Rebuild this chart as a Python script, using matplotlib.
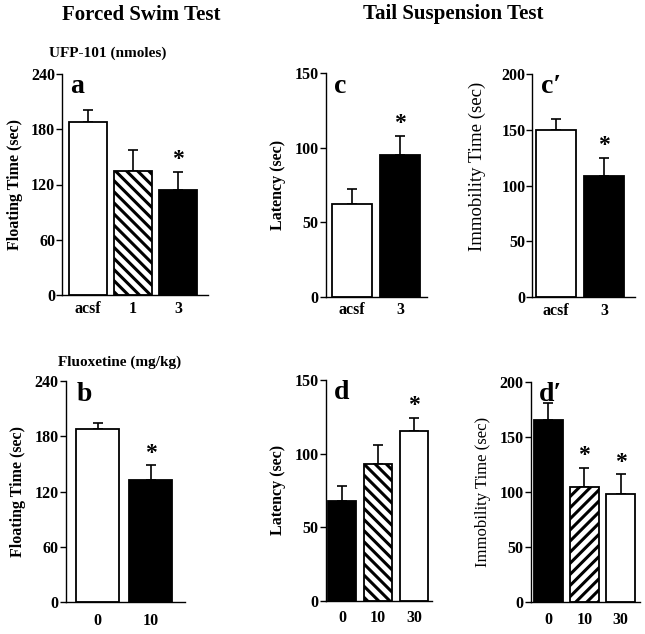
import numpy as np
from matplotlib import pyplot as plt

plt.rcParams['font.family'] = ['Liberation Serif', 'DejaVu Serif']
plt.rcParams['font.weight'] = 'bold'
plt.rcParams['hatch.linewidth'] = 2.2

# panel data (mean, upper SEM)
a_cats = ['acsf', '1', '3']
a_vals = [188, 135, 114]
a_err = [13, 22, 20]
a_star = [False, False, True]

b_cats = ['0', '10']
b_vals = [188, 133]
b_err = [7, 16]
b_star = [False, True]

c_cats = ['acsf', '3']
c_vals = [62, 95]
c_err = [10, 13]
c_star = [False, True]

c2_cats = ['acsf', '3']
c2_vals = [150, 109]
c2_err = [10, 16]
c2_star = [False, True]

d_cats = ['0', '10', '30']
d_vals = [68, 93, 115]
d_err = [10, 13, 9.5]
d_star = [False, False, True]

d2_cats = ['0', '10', '30']
d2_vals = [165, 104, 98.5]
d2_err = [16, 18, 17.5]
d2_star = [False, True, True]

W, H = 645, 634
fig = plt.figure(figsize=(W / 100, H / 100), dpi=100)


def rect(l, r, t, b):
    return [l / W, 1 - b / H, (r - l) / W, (b - t) / H]


def panel(box, cats, vals, err, stars, styles, ymax, yticks, ylabel, letter,
          width, xlim, xpad, ylsize=11.5, ylweight='bold', letx=8):
    ax = fig.add_axes(box)
    x = np.arange(len(cats))
    for i in range(len(cats)):
        st = styles[i]
        if st == 'w':
            fc, hatch = 'white', None
        elif st == 'k':
            fc, hatch = 'black', None
        else:
            fc, hatch = 'white', st
        ax.bar(x[i], vals[i], width=width, color=fc, edgecolor='black',
               linewidth=1.3, hatch=hatch, zorder=2)
    ax.errorbar(x, vals, yerr=[np.zeros(len(err)), err], fmt='none',
                ecolor='black', elinewidth=1.2, capsize=3.3, capthick=1.2,
                zorder=1)
    for i in range(len(cats)):
        if stars[i]:
            ax.annotate('*', (x[i], vals[i] + err[i]), xytext=(0, 1),
                        textcoords='offset points', ha='center', va='bottom',
                        fontsize=17, fontweight='bold')
    ax.set_xlim(*xlim)
    ax.set_ylim(0, ymax)
    ax.set_yticks(yticks)
    ax.set_xticks(x)
    ax.set_xticklabels(cats)
    ax.spines['top'].set_visible(False)
    ax.spines['right'].set_visible(False)
    ax.spines['left'].set_linewidth(1.0)
    ax.spines['bottom'].set_linewidth(1.0)
    ax.tick_params(axis='y', direction='out', length=4, width=1.0,
                   labelsize=11.5, pad=1)
    ax.tick_params(axis='x', length=0, labelsize=11.5, pad=xpad)
    for lab in ax.get_xticklabels() + ax.get_yticklabels():
        lab.set_fontweight('bold')
    ax.set_ylabel(ylabel, fontsize=ylsize, fontweight=ylweight, labelpad=6)
    ax.annotate(letter, (0, 1), xycoords='axes fraction', xytext=(letx, -14),
                textcoords='offset points', ha='left', va='baseline',
                fontsize=20, fontweight='bold')
    return ax


panel(rect(62, 208, 74, 295), a_cats, a_vals, a_err, a_star,
      ['w', '\\\\\\', 'k'], 240, [0, 60, 120, 180, 240], 'Floating Time (sec)',
      'a', 0.84, (-0.58, 2.67), 4, letx=6)
panel(rect(65.7, 185, 381.3, 602), b_cats, b_vals, b_err, b_star,
      ['w', 'k'], 240, [0, 60, 120, 180, 240], 'Floating Time (sec)',
      'b', 0.81, (-0.6, 1.65), 8)
panel(rect(325.7, 426.7, 73.3, 296.7), c_cats, c_vals, c_err, c_star,
      ['w', 'k'], 150, [0, 50, 100, 150], 'Latency (sec)',
      'c', 0.83, (-0.54, 1.55), 4, ylsize=11.5, letx=6)
axc2 = panel(rect(532.3, 635, 74, 297.3), c2_cats, c2_vals, c2_err, c2_star,
             ['w', 'k'], 200, [0, 50, 100, 150, 200], 'Immobility Time (sec)',
             'c\u2032', 0.84, (-0.5, 1.65), 4, ylsize=13.5, ylweight='normal',
             letx=6)
axc2.yaxis.set_label_coords(-0.45, 0.585)
panel(rect(325.7, 431.7, 380, 600.7), d_cats, d_vals, d_err, d_star,
      ['k', '\\\\\\', 'w'], 150, [0, 50, 100, 150], 'Latency (sec)',
      'd', 0.78, (-0.45, 2.49), 7, letx=6)
panel(rect(530.7, 640, 381.7, 602), d2_cats, d2_vals, d2_err, d2_star,
      ['k', '///', 'w'], 200, [0, 50, 100, 150, 200], 'Immobility Time (sec)',
      'd\u2032', 0.8, (-0.49, 2.54), 7, ylsize=12, ylweight='normal',
      letx=6)

fig.text(141 / W, 1 - 15 / H, 'Forced Swim Test', ha='center', va='center',
         fontsize=15, fontweight='bold')
fig.text(453 / W, 1 - 14 / H, 'Tail Suspension Test', ha='center', va='center',
         fontsize=15, fontweight='bold')
fig.text(108 / W, 1 - 53 / H, 'UFP-101 (nmoles)', ha='center', va='center',
         fontsize=11, fontweight='bold')
fig.text(119.5 / W, 1 - 362 / H, 'Fluoxetine (mg/kg)', ha='center', va='center',
         fontsize=11, fontweight='bold')

fig.savefig('out.png', dpi=100)
